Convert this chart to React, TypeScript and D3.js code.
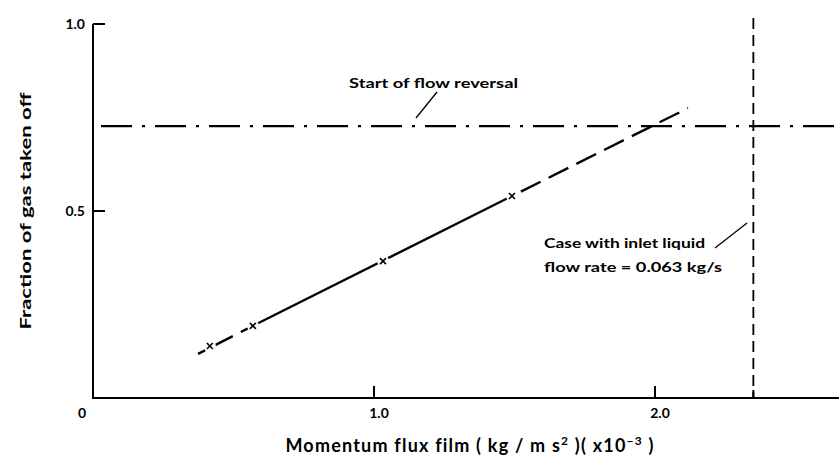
import React from "react";
import * as d3 from "d3";

const W = 839;
const H = 458;

// data
const xTicks = [0, 1.0, 2.0];
const xTickLabels = ["0", "1.0", "2.0"];
const yTicks = [0.5, 1.0];
const yTickLabels = ["0.5", "1.0"];
const pointsX = [0.416, 0.569, 1.032, 1.491];
const pointsY = [0.139, 0.193, 0.366, 0.54];
const lineStartX = 0.374;
const lineStartY = 0.118;
const lineEndX = 2.117;
const lineEndY = 0.775;
const flowReversalY = 0.727;
const caseX = 2.35;

export default function App() {
  const x = d3.scaleLinear().domain([0, 2]).range([93, 655]);
  const y = d3.scaleLinear().domain([0, 1]).range([398, 24]);
  const font = "Lato, 'DejaVu Sans', sans-serif";

  const lower: [number, number][] = [
    [lineStartX, lineStartY],
    [pointsX[1], pointsY[1]],
  ];
  const middle: [number, number][] = [
    [pointsX[1], pointsY[1]],
    [pointsX[3], pointsY[3]],
  ];
  const upper: [number, number][] = [
    [pointsX[3], pointsY[3]],
    [lineEndX, lineEndY],
  ];
  const line = d3
    .line<[number, number]>()
    .x((d) => x(d[0]))
    .y((d) => y(d[1]));

  const xEnd = W;

  return (
    <svg
      width={W}
      height={H}
      style={{ position: "absolute", left: 0, top: 0, background: "#fff" }}
    >
      {/* axes */}
      <line x1={x(0)} x2={xEnd} y1={y(0)} y2={y(0)} stroke="#000" strokeWidth={2} />
      <line x1={x(0)} x2={x(0)} y1={y(0) + 1} y2={y(1)} stroke="#000" strokeWidth={2} />
      {yTicks.map((t, i) => (
        <g key={"yt" + i}>
          <line x1={x(0)} x2={x(0) + 12} y1={y(t)} y2={y(t)} stroke="#000" strokeWidth={2} />
          <text
            x={x(0) - 8}
            y={y(t)}
            dy="0.35em"
            textAnchor="end"
            fontFamily={font}
            fontWeight="bold"
            fontSize={14}
          >
            {yTickLabels[i]}
          </text>
        </g>
      ))}
      {xTicks.map((t, i) => (
        <g key={"xt" + i}>
          {t > 0 && (
            <line x1={x(t)} x2={x(t)} y1={y(0)} y2={y(0) - 12} stroke="#000" strokeWidth={2} />
          )}
          <text
            x={t === 0 ? x(t) - 11 : x(t) + 5}
            y={y(0) + 15}
            dy="0.35em"
            textAnchor="middle"
            fontFamily={font}
            fontWeight="bold"
            fontSize={14}
          >
            {xTickLabels[i]}
          </text>
        </g>
      ))}

      {/* flow reversal dash-dot line */}
      <line
        x1={x(0)}
        x2={xEnd}
        y1={y(flowReversalY)}
        y2={y(flowReversalY)}
        stroke="#000"
        strokeWidth={2.4}
        strokeDasharray="31 10 3 10"
        strokeDashoffset={-8}
      />

      {/* vertical case line */}
      <line
        x1={x(caseX)}
        x2={x(caseX)}
        y1={18}
        y2={y(0)}
        stroke="#000"
        strokeWidth={1.8}
        strokeDasharray="11 6"
      />
      <line x1={x(caseX)} x2={x(caseX)} y1={y(0)} y2={y(0) - 8} stroke="#000" strokeWidth={2} />

      {/* data line */}
      <path d={line(lower) || ""} stroke="#000" strokeWidth={2.4} fill="none" strokeDasharray="22 9" strokeDashoffset={14} />
      <path d={line(middle) || ""} stroke="#000" strokeWidth={2.4} fill="none" />
      <path d={line(upper) || ""} stroke="#000" strokeWidth={2.4} fill="none" strokeDasharray="22 9" strokeDashoffset={-10} />

      {pointsX.map((px, i) => {
        const cx = x(px);
        const cy = y(pointsY[i]);
        const s = 3;
        return (
          <g key={"p" + i}>
            <circle cx={cx} cy={cy} r={6} fill="#fff" />
            <line x1={cx - s} x2={cx + s} y1={cy - s} y2={cy + s} stroke="#000" strokeWidth={1.6} />
            <line x1={cx - s} x2={cx + s} y1={cy + s} y2={cy - s} stroke="#000" strokeWidth={1.6} />
          </g>
        );
      })}

      {/* annotations */}
      <text x={349} y={88} fontFamily={font} fontWeight="bold" fontSize={14} textLength={169} lengthAdjust="spacingAndGlyphs">
        Start of flow reversal
      </text>
      <line x1={437} y1={92} x2={416} y2={118} stroke="#000" strokeWidth={1.3} />

      <text x={544} y={248} fontFamily={font} fontWeight="bold" fontSize={14} textLength={161} lengthAdjust="spacingAndGlyphs">
        Case with inlet liquid
      </text>
      <text x={544} y={272} fontFamily={font} fontWeight="bold" fontSize={14} textLength={178} lengthAdjust="spacingAndGlyphs">
        flow rate = 0.063 kg/s
      </text>
      <line x1={715} y1={248} x2={747} y2={223} stroke="#000" strokeWidth={1.3} />

      {/* axis titles */}
      <text
        transform={`translate(31, 211) rotate(-90)`}
        textAnchor="middle"
        fontFamily={font}
        fontWeight="bold"
        fontSize={16}
        textLength={237}
        lengthAdjust="spacingAndGlyphs"
      >
        Fraction of gas taken off
      </text>
      <text
        x={470}
        y={452}
        textAnchor="middle"
        fontFamily={font}
        fontWeight="bold"
        fontSize={18}
        letterSpacing={1.2}
      >
        Momentum flux film ( kg / m s
        <tspan dy={-7} fontSize={12}>2</tspan>
        <tspan dy={7}> )( x10</tspan>
        <tspan dy={-7} fontSize={12}>−3</tspan>
        <tspan dy={7}> )</tspan>
      </text>
    </svg>
  );
}
